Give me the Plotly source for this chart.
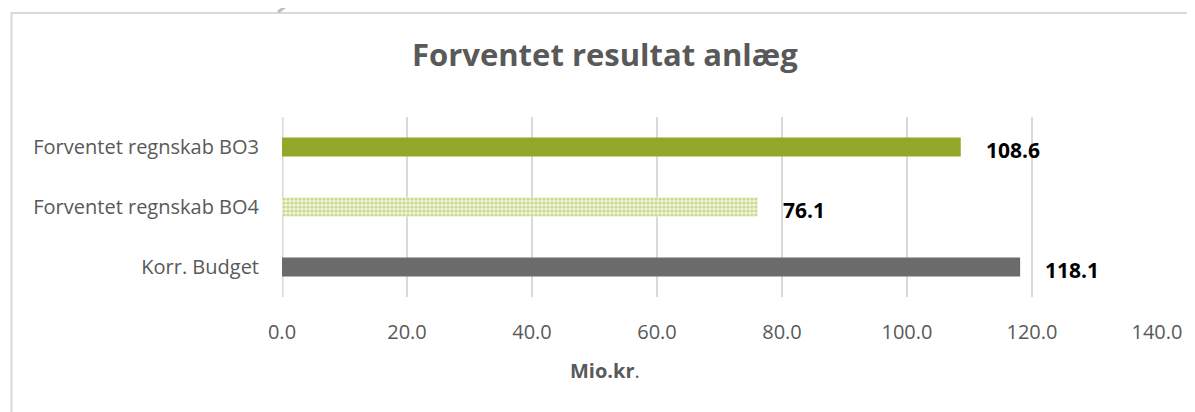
import plotly.graph_objects as go

categories = ["Korr. Budget", "Forventet regnskab BO4", "Forventet regnskab BO3"]
values = [118.1, 76.1, 108.6]
label_texts = ["118.1", "76.1", "108.6"]
x_ticks = [0, 20, 40, 60, 80, 100, 120, 140]
x_tick_labels = ["0.0", "20.0", "40.0", "60.0", "80.0", "100.0", "120.0", "140.0"]

# page body has an 8px default margin; figure is sized to fill the rest
OFF = 8
W, H = 1195 - OFF, 412 - OFF
L, R, T, B = 282 - OFF, 30, 117 - OFF, 115
pw, ph = W - L - R, H - T - B

def px_x(p):
    return (p - OFF - L) / pw

def px_y(p):
    return (H - B - (p - OFF)) / ph

FONT = "Open Sans, sans-serif"
green = "#93A829"
gray = "#6B6B6B"
txt = "#595959"

fig = go.Figure()
fig.add_trace(go.Bar(
    y=[categories[0], categories[2]], x=[values[0], values[2]], orientation="h",
    marker=dict(color=[gray, green], line=dict(width=0)),
    width=0.32, hoverinfo="skip", showlegend=False,
))
fig.add_trace(go.Bar(
    y=[categories[1]], x=[values[1]], orientation="h",
    marker=dict(color="white", line=dict(width=0),
                pattern=dict(shape=".", fgcolor="#A3BE45", bgcolor="#EEF4DA", size=4, solidity=0.5)),
    width=0.32, hoverinfo="skip", showlegend=False,
))

for c, v, t in zip(categories, values, label_texts):
    fig.add_annotation(x=v, y=c, text=f"<b>{t}</b>", showarrow=False,
                       xanchor="left", xshift=23, yshift=-3,
                       font=dict(family=FONT, size=21, color="#000000"))

fig.add_annotation(xref="paper", yref="paper", x=px_x(608), y=px_y(370),
                   text="<b>Mio.kr</b>.", showarrow=False, xanchor="center", yanchor="middle",
                   font=dict(family=FONT, size=20, color=txt))

fig.add_annotation(xref="paper", yref="paper", x=px_x(608), y=px_y(54),
                   text="<b>Forventet resultat anlæg</b>", showarrow=False,
                   xanchor="center", yanchor="middle",
                   font=dict(family=FONT, size=31, color=txt))

# outer border of the chart area
fig.add_shape(type="rect", xref="paper", yref="paper",
              x0=px_x(9), x1=px_x(1260), y0=px_y(470), y1=px_y(13),
              line=dict(color="#D9D9D9", width=2), fillcolor="rgba(0,0,0,0)", layer="below")
# diagonal stroke at the top
fig.add_shape(type="line", xref="paper", yref="paper",
              x0=px_x(278), y0=px_y(12), x1=px_x(296), y1=px_y(-1),
              line=dict(color="#BFBFBF", width=3))

fig.update_layout(
    width=W, height=H,
    margin=dict(l=L, r=R, t=T, b=B, pad=0),
    paper_bgcolor="white", plot_bgcolor="white",
    barmode="overlay",
    font=dict(family=FONT, size=20, color=txt),
    xaxis=dict(range=[0, 140], tickvals=x_ticks, ticktext=x_tick_labels,
               showgrid=True, gridcolor="#D9D9D9", gridwidth=2,
               zeroline=False, showline=False, ticks="",
               tickfont=dict(family=FONT, size=20, color=txt),
               ticklabelstandoff=21),
    yaxis=dict(categoryorder="array", categoryarray=categories,
               showgrid=False, zeroline=False, showline=False, ticks="",
               tickfont=dict(family=FONT, size=20, color=txt),
               ticklabelstandoff=22),
)
fig.add_shape(type="line", xref="x", yref="paper", x0=0, x1=0, y0=0, y1=1,
              line=dict(color="#D9D9D9", width=3), layer="below")

fig.write_html("out.html")
